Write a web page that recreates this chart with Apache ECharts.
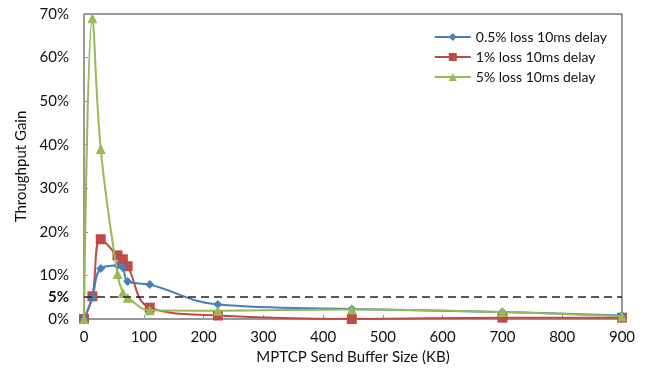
<!DOCTYPE html>
<html>
<head>
<meta charset="utf-8">
<script src="https://cdn.jsdelivr.net/npm/echarts@6/dist/echarts.min.js"></script>
<style>
  html, body { margin: 0; padding: 0; background: #fff; }
  #chart { width: 646px; height: 379px; }
</style>
</head>
<body>
<div id="chart"></div>
<script>
// buffer sizes (KB) and throughput gain (%)
const bufferSizes = [0, 14, 28, 56, 65, 73, 110, 224, 448, 700, 900];
const loss05 = [0, 5.0, 11.6, 12.3, 11.8, 8.6, 7.9, 3.3, 2.3, 1.6, 0.8];
const loss1 = [0, 5.2, 18.3, 14.6, 13.7, 12.1, 2.6, 0.8, 0, 0.3, 0.3];
const loss5 = [0, 69, 39, 10.3, 6.0, 4.9, 2.0, 1.9, 2.2, 1.6, 0.6];
const seriesNames = ["0.5% loss 10ms delay", "1% loss 10ms delay", "5% loss 10ms delay"];
const yTicks = [0, 10, 20, 30, 40, 50, 60, 70];
const threshold = 5;

const font = "Lato, 'Open Sans', sans-serif";
const pair = (ys) => bufferSizes.map((x, i) => [x, ys[i]]);

const chart = echarts.init(document.getElementById("chart"));
chart.setOption({
  animation: false,
  textStyle: { fontFamily: font },
  grid: {
    left: 84, right: 24, top: 14, bottom: 60,
    show: true, borderColor: "#333", borderWidth: 1
  },
  legend: {
    orient: "vertical",
    right: 34,
    top: 25,
    itemWidth: 36,
    itemHeight: 10,
    itemGap: 6,
    textStyle: { fontSize: 14, color: "#111", fontFamily: font },
    data: seriesNames
  },
  xAxis: {
    type: "value",
    min: 0, max: 900, interval: 100,
    name: "MPTCP Send Buffer Size (KB)",
    nameLocation: "middle",
    nameGap: 31,
    nameTextStyle: { fontSize: 15, color: "#111" },
    axisLine: { lineStyle: { color: "#999" } },
    axisTick: { inside: true, length: 4, lineStyle: { color: "#999" } },
    axisLabel: { fontSize: 15, color: "#111", margin: 11 },
    splitLine: { show: false }
  },
  yAxis: {
    type: "value",
    min: yTicks[0], max: yTicks[yTicks.length - 1], interval: 10,
    name: "Throughput Gain",
    nameLocation: "middle",
    nameGap: 54,
    nameTextStyle: { fontSize: 15, color: "#111" },
    axisLine: { show: true, lineStyle: { color: "#999" } },
    axisTick: { show: true, inside: true, length: 4, lineStyle: { color: "#999" } },
    axisLabel: { fontSize: 15, color: "#111", margin: 15, formatter: "{value}%" },
    splitLine: { show: false }
  },
  series: [
    {
      name: seriesNames[0], type: "line", data: pair(loss05),
      smooth: 0.4, symbol: "diamond", symbolSize: 9,
      itemStyle: { color: "#4A7EBB" }, lineStyle: { width: 2 }, z: 3,
      markLine: {
        silent: true, symbol: "none",
        lineStyle: { color: "#222", type: [8, 5], width: 1.5 },
        label: {
          position: "start", distance: 15, formatter: threshold + "%",
          fontSize: 15, fontWeight: "bold", color: "#111", fontFamily: font
        },
        data: [{ yAxis: threshold }]
      }
    },
    {
      name: seriesNames[1], type: "line", data: pair(loss1),
      smooth: 0.4, symbol: "rect", symbolSize: 10,
      itemStyle: { color: "#BE4B48" }, lineStyle: { width: 2 }, z: 2
    },
    {
      name: seriesNames[2], type: "line", data: pair(loss5),
      smooth: 0.4, symbol: "triangle", symbolSize: 10,
      itemStyle: { color: "#98B954" }, lineStyle: { width: 2 }, z: 4
    }
  ]
});
</script>
</body>
</html>
